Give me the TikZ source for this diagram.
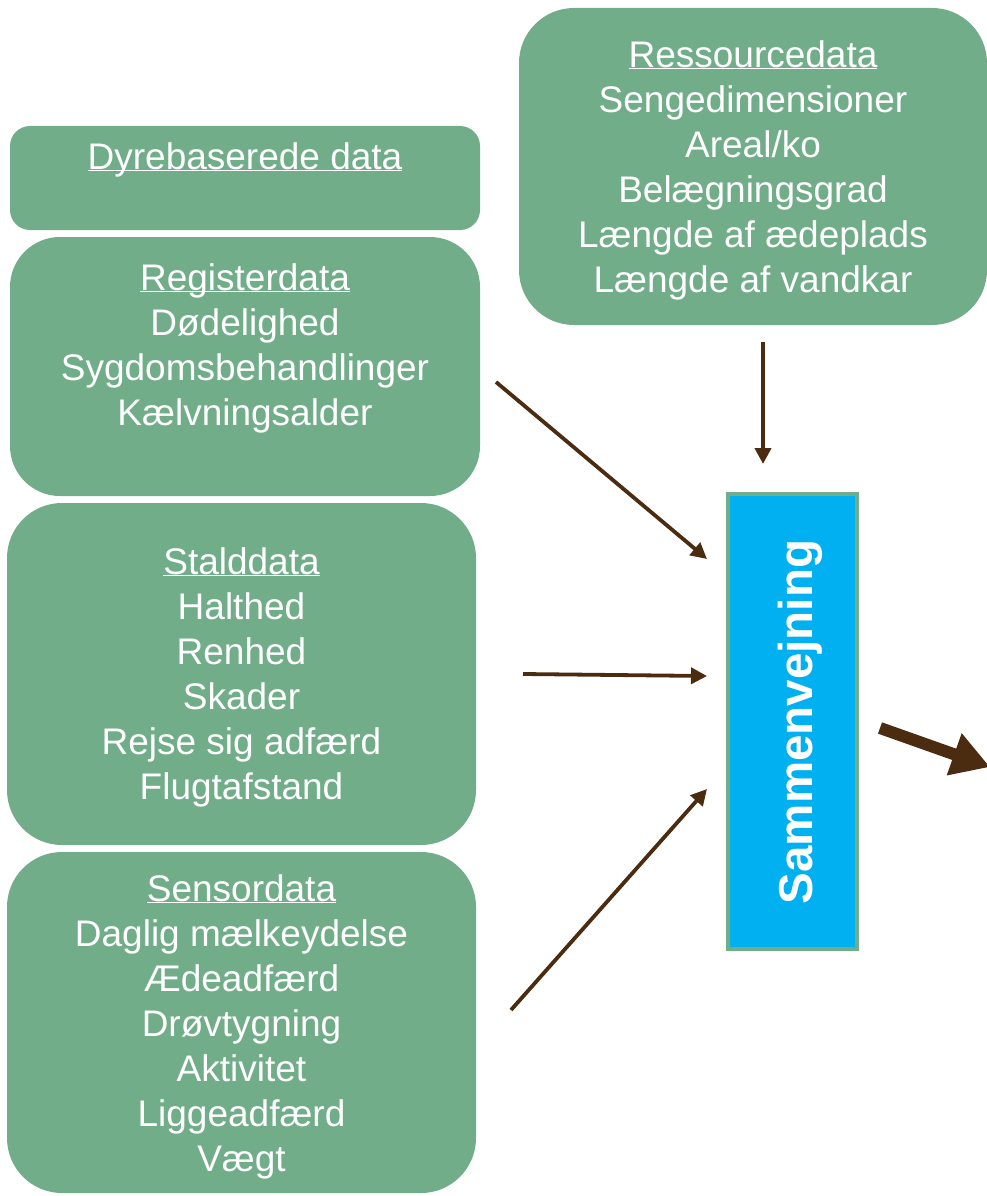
\documentclass[tikz,border=0pt]{standalone}
\usepackage{fontspec}
\setmainfont{Liberation Sans}
\usetikzlibrary{arrows.meta}
\definecolor{boxgreen}{HTML}{71AD89}
\definecolor{skyblue}{HTML}{00B0F0}
\definecolor{arrowbrown}{HTML}{4B2C10}
\newcommand{\hdr}[1]{\underline{\smash{#1}}}
\tikzset{
  greenbox/.style={draw=none, fill=boxgreen, inner sep=0pt},
  boxtext/.style={text=white, align=center, inner sep=0pt, anchor=north,
    font=\fontsize{37}{45}\selectfont},
  conn/.style={draw=arrowbrown, line width=3.8pt, -{Triangle[length=16pt,width=16pt]}},
  bigconn/.style={draw=arrowbrown, line width=12pt, -{Triangle[length=38pt,width=42pt]}},
}
\begin{document}
\begin{tikzpicture}[x=1pt,y=-1pt]
\useasboundingbox (0,0) rectangle (987,1196);
% boxes
\node[greenbox, rounded corners=20pt, minimum width=470pt, minimum height=104pt] (dyr) at (245,178) {};
\node[greenbox, rounded corners=50pt, minimum width=470pt, minimum height=259pt] (reg) at (245,366.5) {};
\node[greenbox, rounded corners=55pt, minimum width=469pt, minimum height=342pt] (stald) at (241.5,674) {};
\node[greenbox, rounded corners=55pt, minimum width=469pt, minimum height=341pt] (sensor) at (241.5,1022.5) {};
\node[greenbox, rounded corners=55pt, minimum width=468pt, minimum height=317pt] (res) at (753,166.5) {};
\node[draw=boxgreen, line width=4pt, fill=skyblue, minimum width=129pt, minimum height=455pt, inner sep=0pt] (samm) at (792.5,721.5) {};
% texts
\node[boxtext] (dyrt) at (245,137.5) {\strut\hdr{Dyrebaserede data}};
\node[boxtext] (regt) at (245,258.5) {\strut\hdr{Registerdata}\\Dødelighed\\Sygdomsbehandlinger\\Kælvningsalder};
\node[boxtext] (staldt) at (241.5,542.5) {\strut\hdr{Stalddata}\\Halthed\\Renhed\\Skader\\Rejse sig adfærd\\Flugtafstand};
\node[boxtext] (sensort) at (241.5,869.5) {\strut\hdr{Sensordata}\\Daglig mælkeydelse\\Ædeadfærd\\Drøvtygning\\Aktivitet\\Liggeadfærd\\Vægt};
\node[boxtext] (rest) at (753,35.5) {\strut\hdr{Ressourcedata}\\Sengedimensioner\\Areal/ko\\Belægningsgrad\\Længde af ædeplads\\Længde af vandkar};
\node[text=white, rotate=90, inner sep=0pt, font=\fontsize{47.5}{50}\selectfont\bfseries] (sammt) at (800,722) {Sammenvejning};
% connectors
\coordinate (a1s) at (496,382); \coordinate (a1e) at (707,559);
\coordinate (a2s) at (523,674); \coordinate (a2e) at (707,676);
\coordinate (a3s) at (511,1010); \coordinate (a3e) at (707,789);
\coordinate (a4s) at (763,342); \coordinate (a4e) at (763,464);
\coordinate (a5s) at (880,728); \coordinate (a5e) at (990,767);
\draw[conn] (a1s) -- (a1e);
\draw[conn] (a2s) -- (a2e);
\draw[conn] (a3s) -- (a3e);
\draw[conn] (a4s) -- (a4e);
\draw[bigconn] (a5s) -- (a5e);
\end{tikzpicture}
\end{document}
